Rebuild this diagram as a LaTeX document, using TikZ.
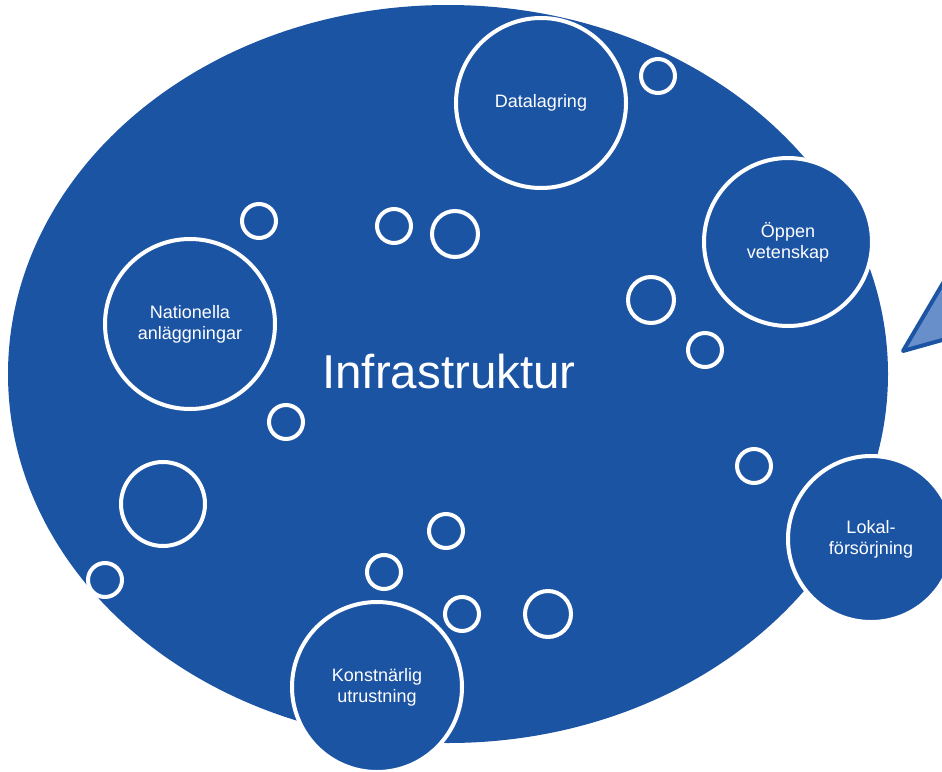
\documentclass[tikz,border=0pt]{standalone}
\usepackage{fontspec}
\setmainfont{Liberation Sans}
\usetikzlibrary{positioning}
\usetikzlibrary{shapes.geometric}
\definecolor{infrablue}{RGB}{28,84,164}
\definecolor{lightinfra}{RGB}{104,143,202}
\tikzset{
        bubble/.style={circle,draw=white,fill=infrablue,line width=4pt,inner sep=0pt,
                       text=white,align=center,font=\fontsize{18}{21}\selectfont},
        drop/.style={draw=white,fill=infrablue,line width=4pt},
        }

\begin{document}
\begin{tikzpicture}[x=1pt,y=-1pt]
	\useasboundingbox (0,0) rectangle (942,771);

	% main cloud.....................
	\fill [infrablue] (448,374) ellipse [x radius=440pt, y radius=369pt];
	\node [white,font=\fontsize{47.5}{50}\selectfont] (infra) at (449,372) {Infrastruktur};

	% pointer on the right......................
	\draw [draw=infrablue,fill=lightinfra,line width=4pt,line join=round]
		(903,351) -- (985,212) -- (985,328) -- cycle;

	% labelled bubbles...................
	\node [bubble,minimum size=170pt] (data)  at (541,103) {Datalagring};
	\node [bubble,minimum size=168pt] (oppen) at (788,242) {Öppen\\vetenskap};
	\node [bubble,minimum size=170pt] (natl)  at (190,324) {Nationella\\anläggningar};
	\node [bubble,minimum size=166pt] (lokal) at (871,539) {Lokal-\\försörjning};
	\node [bubble,minimum size=170pt] (konst) at (377,687) {Konstnärlig\\utrustning};

	% empty bubbles.............
	\draw [drop] (163,504) circle [radius=42pt];
	\draw [drop] (455,234) circle [radius=23pt];
	\draw [drop] (651,300) circle [radius=23pt];
	\draw [drop] (548,614) circle [radius=23pt];
	\foreach \bx/\by in {259/221, 394/226, 658/76, 705/350, 286/422,
	                     754/466, 446/531, 384/572, 462/614, 105/580}
		\draw [drop] (\bx,\by) circle [radius=17pt];
\end{tikzpicture}
\end{document}
